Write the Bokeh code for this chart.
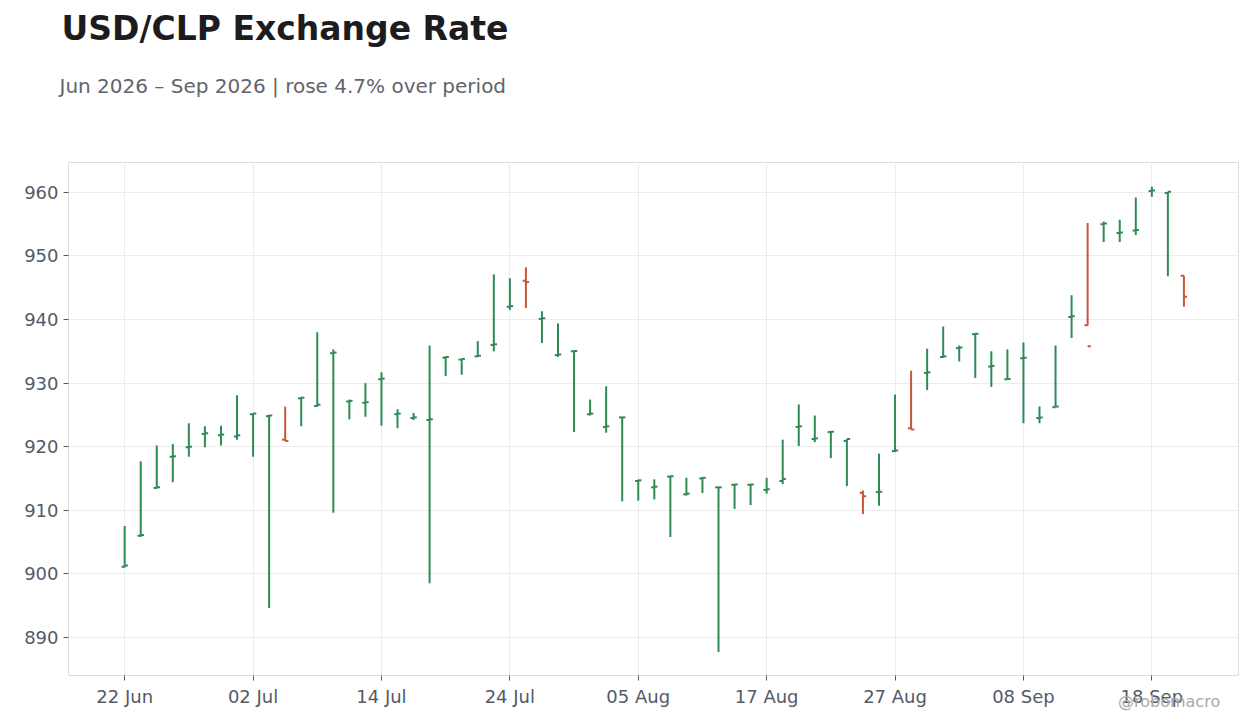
import pandas as pd
from bokeh.models import ColumnDataSource, FixedTicker, Title, Range1d, Div
from bokeh.plotting import figure
from bokeh.layouts import column
from bokeh.transform import dodge
from bokeh.embed import file_html
from bokeh.resources import INLINE

# business days, 22 Jun 2026 -> 22 Sep 2026
fechas = pd.bdate_range("2026-06-22", periods=67)

apertura = [901.1, 906.0, 913.5, 918.4, 919.9, 922.0, 921.8, 921.6, 925.1, 924.8,
            921.1, 927.6, 926.4, 934.7, 927.1, 926.9, 930.6, 925.1, 924.5, 924.2,
            934.0, 933.7, 934.2, 936.0, 942.0, 946.1, 940.1, 934.4, 935.0, 925.1,
            923.1, 924.6, 914.6, 913.6, 915.3, 912.5, 915.0, 913.6, 914.0, 914.0,
            913.2, 914.6, 923.1, 921.2, 922.3, 920.9, 912.75, 912.85, 919.3, 922.9,
            931.6, 934.1, 935.5, 937.7, 932.6, 930.6, 933.9, 924.5, 926.2, 940.4,
            939.1, 955.0, 953.6, 954.0, 960.2, 959.9, 946.9]
maximo = [907.5, 917.7, 920.2, 920.4, 923.7, 923.2, 923.3, 928.1, 925.2, 925.0,
          926.3, 927.8, 938.0, 935.3, 927.4, 930.0, 931.7, 925.9, 925.3, 935.9,
          934.2, 933.8, 936.6, 947.1, 946.5, 948.2, 941.3, 939.4, 935.1, 927.4,
          929.5, 924.65, 914.8, 914.85, 915.4, 915.1, 915.2, 913.65, 914.1, 914.1,
          915.1, 921.1, 926.65, 924.9, 922.4, 921.2, 913.1, 918.9, 928.2, 931.95,
          935.4, 938.9, 935.9, 937.8, 935.0, 935.3, 936.4, 926.3, 935.9, 943.8,
          955.2, 955.4, 955.7, 959.2, 960.9, 960.1, 946.9]
minimo = [901.0, 905.8, 913.4, 914.4, 918.4, 919.9, 920.2, 921.1, 918.4, 894.6,
          920.9, 923.2, 926.3, 909.6, 924.3, 924.7, 923.3, 922.9, 924.2, 898.5,
          931.1, 931.3, 934.1, 935.0, 941.5, 941.8, 936.3, 934.1, 922.3, 924.9,
          922.2, 911.4, 911.5, 911.7, 905.8, 912.3, 912.7, 887.7, 910.2, 910.8,
          912.6, 914.1, 920.1, 920.7, 918.2, 913.8, 909.4, 910.7, 919.15, 922.7,
          928.9, 934.0, 933.4, 930.8, 929.4, 930.55, 923.7, 923.7, 926.2, 937.1,
          939.0, 952.2, 952.2, 953.3, 959.3, 946.8, 942.0]
cierre = [901.3, 906.1, 913.6, 918.5, 920.0, 922.1, 921.9, 921.8, 925.2, 924.9,
          920.9, 927.7, 926.6, 934.8, 927.2, 927.0, 930.7, 925.2, 924.6, 924.3,
          934.1, 933.8, 934.3, 936.1, 942.1, 945.9, 940.2, 934.5, 935.05, 925.2,
          923.2, 924.6, 914.7, 913.7, 915.35, 912.6, 915.1, 913.6, 914.05, 914.05,
          913.3, 914.9, 923.2, 921.3, 922.35, 921.2, 912.2, 912.9, 919.4, 922.7,
          931.7, 934.2, 935.6, 937.75, 932.7, 930.65, 934.0, 924.6, 926.3, 940.5,
          935.8, 955.1, 953.7, 954.1, 960.3, 960.1, 943.6]

VERDE = "#2e8b57"
ROJO = "#c9553b"

idx = list(range(len(fechas)))
colores = [VERDE if c >= o else ROJO for o, c in zip(apertura, cierre)]

source = ColumnDataSource(dict(x=idx, open=apertura, high=maximo, low=minimo,
                               close=cierre, color=colores))

p = figure(width=1244, height=712, output_backend="svg", toolbar_location=None,
           x_range=Range1d(-3.5, 69.4), y_range=Range1d(884.0, 964.7),
           min_border_left=68, min_border_right=6, min_border_bottom=37)

# spacer between subtitle and plot area
p.add_layout(Title(text=" ", text_font_size="10px", standoff=33), "above")
p.add_layout(Title(text="Jun 2026 \u2013 Sep 2026 | rose 4.7% over period", align="left",
                   text_font="DejaVu Sans", text_font_size="20px", text_font_style="normal",
                   text_color="#62646c", offset=-9, standoff=37), "above")
p.add_layout(Title(text="USD/CLP Exchange Rate", align="left",
                   text_font="DejaVu Sans", text_font_size="33px", text_font_style="bold",
                   text_color="#1c1c1e", offset=-7, standoff=12), "above")

p.segment(x0="x", y0="low", x1="x", y1="high", color="color", line_width=2, source=source)
p.segment(x0=dodge("x", -0.2), y0="open", x1="x", y1="open", color="color",
          line_width=2, source=source)
p.segment(x0="x", y0="close", x1=dodge("x", 0.2), y1="close", color="color",
          line_width=2, source=source)

# ticks every 8 business days
tick_pos = idx[::8]
tick_labels = [fechas[i].strftime("%d %b") for i in tick_pos]
p.xaxis.ticker = FixedTicker(ticks=tick_pos)
p.xaxis.major_label_overrides = dict(zip(tick_pos, tick_labels))
p.yaxis.ticker = FixedTicker(ticks=list(range(890, 961, 10)))

for ax in (p.xaxis, p.yaxis):
    ax.axis_line_color = None
    ax.major_tick_line_color = "#555a66"
    ax.major_tick_in = 0
    ax.major_tick_out = 5
    ax.minor_tick_line_color = None
    ax.major_label_text_font = "DejaVu Sans"
    ax.major_label_text_font_size = "18px"
    ax.major_label_text_color = "#555a66"

p.grid.grid_line_color = "#ececec"
p.outline_line_color = "#dddddd"
p.background_fill_color = "white"
p.border_fill_color = "white"

# watermark, laid over the bottom right corner
marca = Div(text="@robomacro", margin=(-20, 0, 0, 1118), height=20,
            styles={"color": "#aaaaaa", "font-family": "DejaVu Sans", "font-size": "16px",
                    "line-height": "20px", "overflow": "visible"})

open("out.html", "w").write(file_html(column(p, marca), INLINE))
